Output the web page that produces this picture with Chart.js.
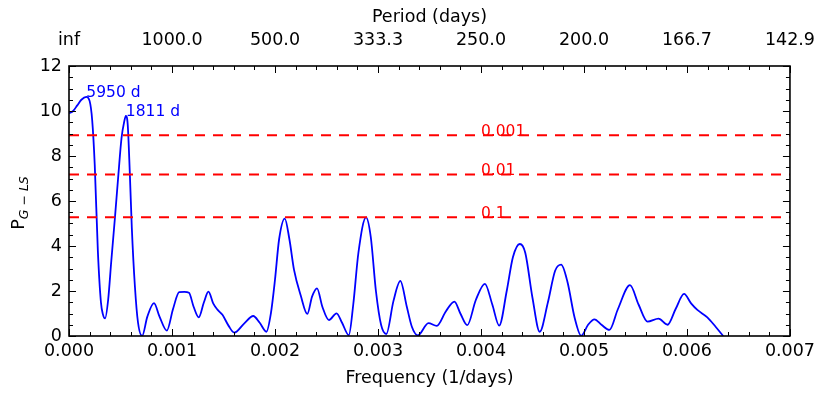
<!DOCTYPE html>
<html>
<head>
<meta charset="utf-8">
<script src="https://cdn.jsdelivr.net/npm/chart.js"></script>
<style>
  body { margin: 0; background: #fff; }
  #wrap { width: 830px; height: 400px; }
</style>
</head>
<body>
<div id="wrap"><canvas id="canvas" width="830" height="400"></canvas></div>
<script>
// frequency in 1/days, power
var freq = [0.000, 0.00004, 0.00008, 0.00012, 0.000168, 0.00020, 0.000225, 0.00025, 0.00028, 0.00031,
    0.00033, 0.00035, 0.00038, 0.00041, 0.000445, 0.00048, 0.00051, 0.000535, 0.000552, 0.00057,
    0.00059, 0.00061, 0.00064, 0.00067, 0.00071, 0.00076, 0.000825, 0.00088, 0.00095, 0.00101,
    0.00107, 0.00112, 0.001165, 0.00121, 0.00126, 0.00131, 0.001354, 0.00140, 0.001444, 0.00149,
    0.00155, 0.001605, 0.00170, 0.001789, 0.00185, 0.001917, 0.00196, 0.00200, 0.00204, 0.002095,
    0.00214, 0.002185, 0.00225, 0.002314, 0.00236, 0.002408, 0.00246, 0.002524, 0.002598, 0.00265,
    0.002717, 0.00276, 0.00281, 0.002884, 0.00293, 0.00298, 0.00303, 0.003081, 0.00315, 0.003217,
    0.00328, 0.00333, 0.003387, 0.00349, 0.003571, 0.00366, 0.003742, 0.00380, 0.003867, 0.00395,
    0.004038, 0.00411, 0.004177, 0.00425, 0.00431, 0.004377, 0.00443, 0.00450, 0.00457, 0.00465,
    0.00472, 0.004779, 0.00484, 0.00491, 0.004973, 0.00504, 0.005102, 0.00517, 0.005247, 0.00533,
    0.005447, 0.00553, 0.005617, 0.005724, 0.005811, 0.00589, 0.005972, 0.00604, 0.006101, 0.006198,
    0.00628, 0.006352];
var power = [9.9, 10.0, 10.25, 10.5, 10.63, 10.45, 9.6, 7.6, 3.8, 1.5,
    0.95, 0.78, 1.6, 3.3, 5.2, 7.2, 8.8, 9.5, 9.78, 9.4,
    7.3, 4.8, 2.2, 0.6, 0.0, 0.85, 1.46, 0.85, 0.24, 1.2,
    1.95, 1.96, 1.92, 1.3, 0.83, 1.5, 1.97, 1.45, 1.16, 0.94,
    0.45, 0.15, 0.55, 0.89, 0.6, 0.19, 1.0, 2.5, 4.3, 5.22,
    4.3, 2.94, 1.8, 0.98, 1.75, 2.12, 1.3, 0.71, 1.01, 0.6,
    0.04, 1.4, 3.7, 5.27, 4.4, 2.0, 0.5, 0.09, 1.55, 2.45,
    1.3, 0.4, 0.03, 0.57, 0.45, 1.1, 1.53, 1.0, 0.48, 1.6,
    2.32, 1.4, 0.46, 2.0, 3.5, 4.09, 3.7, 1.7, 0.19, 1.5,
    2.9, 3.17, 2.4, 0.8, 0.01, 0.5, 0.74, 0.5, 0.27, 1.2,
    2.26, 1.4, 0.64, 0.77, 0.5, 1.2, 1.87, 1.45, 1.16, 0.83,
    0.4, 0.0];

// false alarm probability levels
var fapLabels = ["0.001", "0.01", "0.1"];
var fapLevels = [8.92, 7.18, 5.28];
var fapLabelFreq = 0.004;

// annotated peaks
var peakPeriods = [5950, 1811];
var peakPowers = [10.63, 9.78];

// top axis tick labels (period = 1/frequency)
var periodLabels = ["inf", "1000.0", "500.0", "333.3", "250.0", "200.0", "166.7", "142.9"];

var FONT = "DejaVu Sans";

var curve = [];
for (var i = 0; i < freq.length; i++) {
    curve.push({ x: freq[i], y: power[i] });
}

var datasets = [];
for (var j = 0; j < fapLevels.length; j++) {
    datasets.push({
        data: [{ x: 0, y: fapLevels[j] }, { x: 0.007, y: fapLevels[j] }],
        borderColor: "#ff0000",
        borderWidth: 2,
        borderDash: [10, 8],
        pointRadius: 0,
        order: 0
    });
}
datasets.push({
    data: curve,
    borderColor: "#0000ff",
    borderWidth: 1.8,
    pointRadius: 0,
    cubicInterpolationMode: "monotone",
    order: 1
});

// frame, inward ticks, text labels
var decorations = {
    id: "decorations",
    afterDraw: function (chart) {
        var ctx = chart.ctx;
        var xs = chart.scales.x;
        var ys = chart.scales.y;
        var a = chart.chartArea;
        ctx.save();

        // threshold labels
        ctx.fillStyle = "#ff0000";
        ctx.font = "15.5px '" + FONT + "'";
        ctx.textAlign = "left";
        ctx.textBaseline = "alphabetic";
        for (var j = 0; j < fapLevels.length; j++) {
            ctx.fillText(fapLabels[j], xs.getPixelForValue(fapLabelFreq), ys.getPixelForValue(fapLevels[j]) + 1);
        }

        // peak labels
        ctx.fillStyle = "#0000ff";
        for (var p = 0; p < peakPeriods.length; p++) {
            ctx.fillText(peakPeriods[p] + " d", xs.getPixelForValue(1 / peakPeriods[p]), ys.getPixelForValue(peakPowers[p]));
        }

        // ticks
        ctx.strokeStyle = "#000";
        ctx.lineWidth = 1;
        ctx.beginPath();
        for (var k = 0; k <= 35; k++) {
            var px = Math.round(xs.getPixelForValue(k * 0.0002)) + 0.5;
            var len = (k % 5 === 0) ? 7 : 4;
            ctx.moveTo(px, a.bottom); ctx.lineTo(px, a.bottom - len);
            ctx.moveTo(px, a.top); ctx.lineTo(px, a.top + len);
        }
        for (var m = 0; m <= 24; m++) {
            var py = Math.round(ys.getPixelForValue(m * 0.5)) + 0.5;
            var ln = (m % 4 === 0) ? 7 : 4;
            ctx.moveTo(a.left, py); ctx.lineTo(a.left + ln, py);
            ctx.moveTo(a.right, py); ctx.lineTo(a.right - ln, py);
        }
        ctx.stroke();

        // frame
        ctx.lineWidth = 1.6;
        ctx.strokeRect(a.left, a.top, a.right - a.left, a.bottom - a.top);

        // y axis title: P with subscript G - LS
        ctx.fillStyle = "#000";
        ctx.translate(24, (a.top + a.bottom) / 2 + 2);
        ctx.rotate(-Math.PI / 2);
        ctx.font = "17.5px '" + FONT + "'";
        var wP = ctx.measureText("P").width;
        ctx.font = "italic 12.5px '" + FONT + "'";
        var sub = "G \u2212 LS";
        var wS = ctx.measureText(sub).width;
        var start = -(wP + wS) / 2;
        ctx.font = "17.5px '" + FONT + "'";
        ctx.fillText("P", start, 0);
        ctx.font = "italic 12.5px '" + FONT + "'";
        ctx.fillText(sub, start + wP, 4);
        ctx.restore();
    }
};

var tickFont = { family: FONT, size: 17.5 };

var chart = new Chart(document.getElementById("canvas").getContext("2d"), {
    type: "line",
    data: { datasets: datasets },
    options: {
        responsive: false,
        animation: false,
        layout: { padding: { left: 0, right: 36, top: 0, bottom: 0 } },
        plugins: { legend: { display: false }, tooltip: { enabled: false } },
        scales: {
            x: {
                type: "linear",
                position: "bottom",
                min: 0,
                max: 0.007,
                grid: { display: false, drawTicks: false },
                border: { display: false },
                ticks: {
                    stepSize: 0.001,
                    autoSkip: false,
                    maxRotation: 0,
                    padding: 5,
                    color: "#000",
                    font: tickFont,
                    callback: function (v) { return v.toFixed(3); }
                },
                title: {
                    display: true,
                    text: "Frequency (1/days)",
                    color: "#000",
                    font: tickFont,
                    padding: { top: 0, bottom: 11 }
                },
                afterFit: function (s) { s.height = 64; }
            },
            x2: {
                type: "linear",
                position: "top",
                min: 0,
                max: 0.007,
                grid: { display: false, drawTicks: false },
                border: { display: false },
                ticks: {
                    stepSize: 0.001,
                    autoSkip: false,
                    maxRotation: 0,
                    padding: 15,
                    color: "#000",
                    font: tickFont,
                    callback: function (v, i) { return periodLabels[i]; }
                },
                title: {
                    display: true,
                    text: "Period (days)",
                    color: "#000",
                    font: tickFont,
                    padding: { top: 6.5, bottom: 0 }
                },
                afterFit: function (s) { s.height = 66; }
            },
            y: {
                min: 0,
                max: 12,
                grid: { display: false, drawTicks: false },
                border: { display: false },
                ticks: {
                    stepSize: 2,
                    padding: 7,
                    color: "#000",
                    font: tickFont
                },
                afterFit: function (s) { s.width = 69; }
            }
        }
    },
    plugins: [decorations]
});
</script>
</body>
</html>
